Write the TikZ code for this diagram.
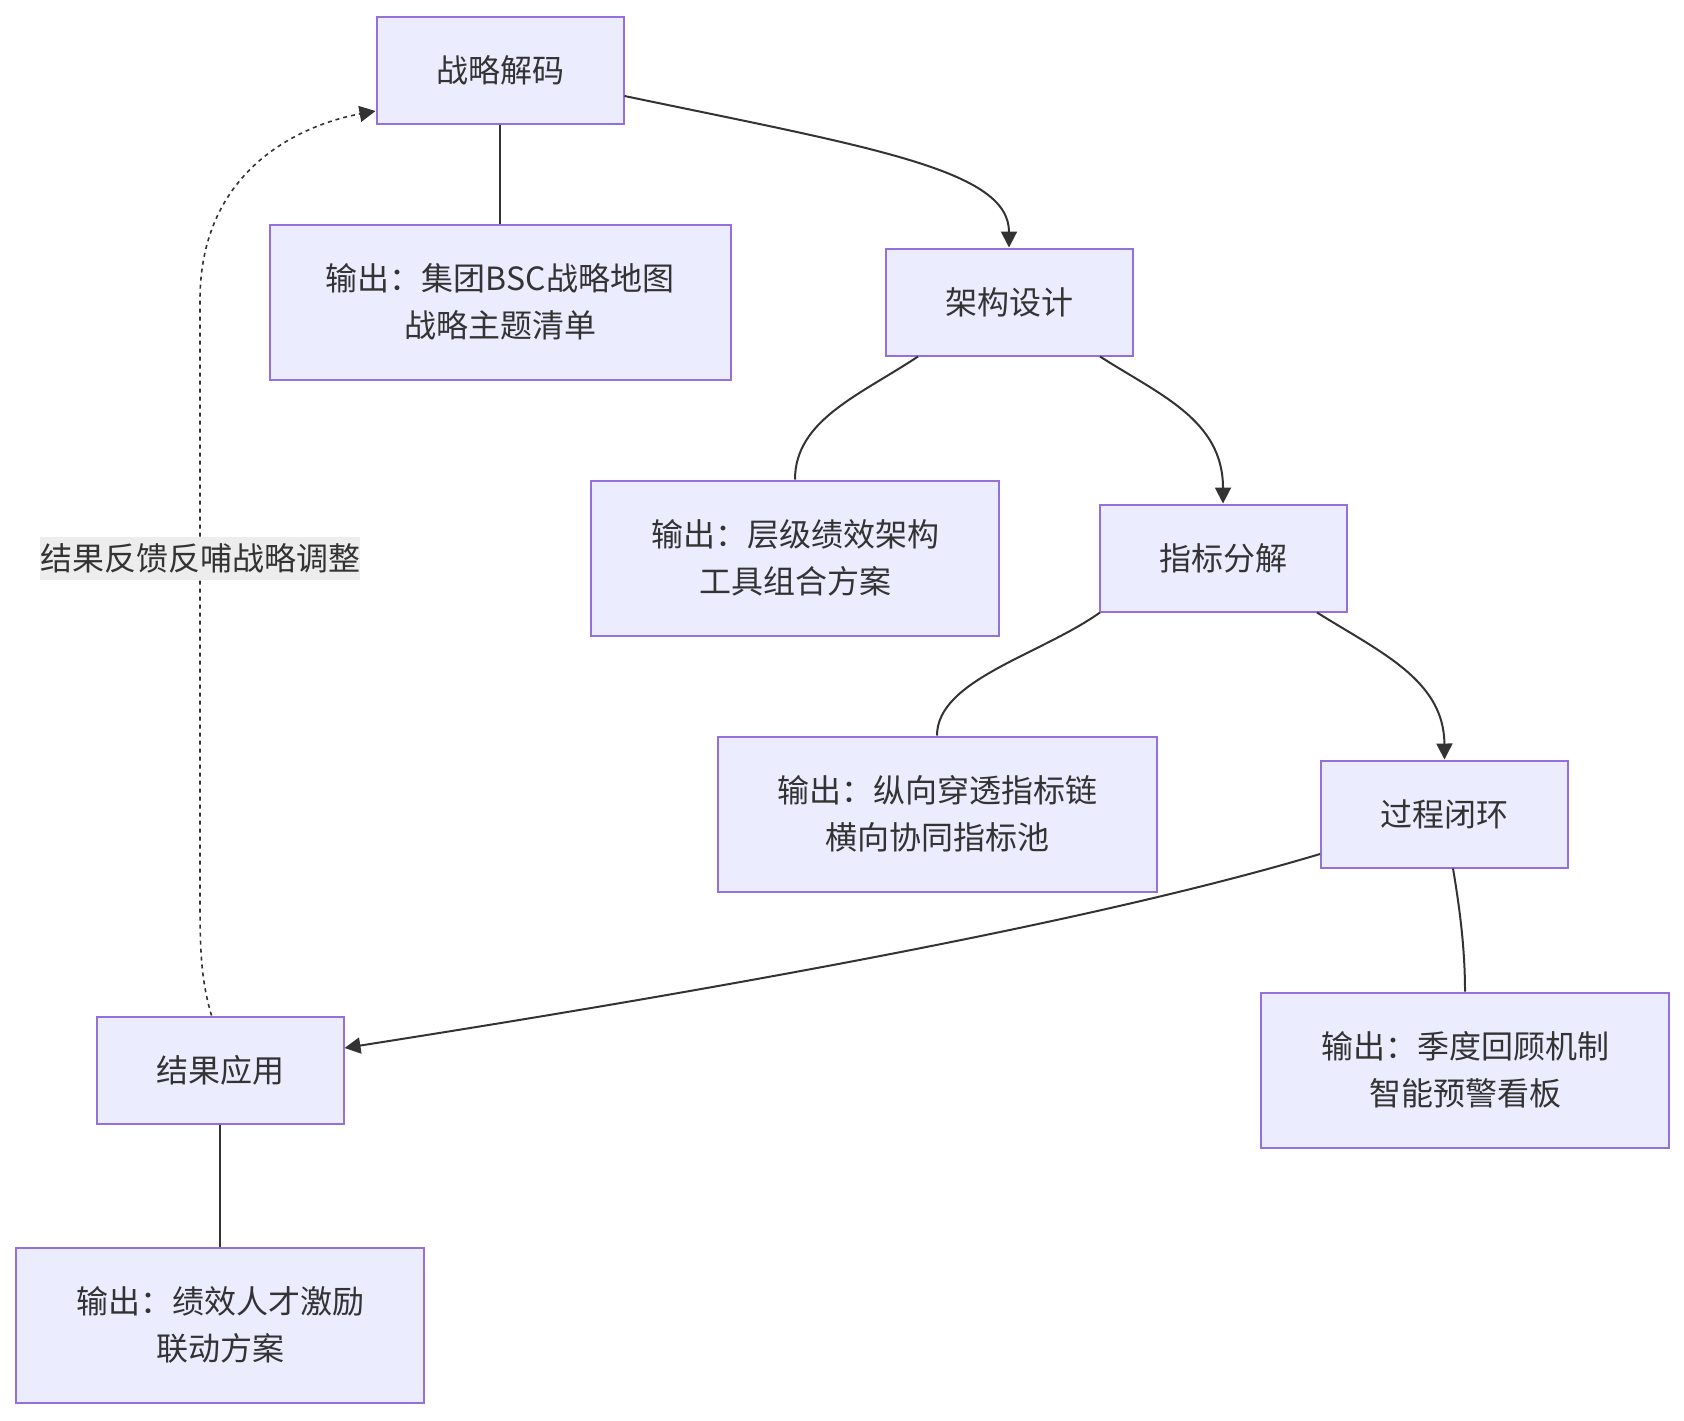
\documentclass[tikz,border=0pt]{standalone}
\usepackage{fontspec}
\setmainfont{Noto Sans CJK SC}
\usepackage{tikz}
\usetikzlibrary{arrows.meta}
\definecolor{lav}{HTML}{ECECFF}
\definecolor{purp}{HTML}{9370DB}
\definecolor{ink}{HTML}{333333}
\definecolor{lblbg}{HTML}{EDEDED}

\begin{document}
\begin{tikzpicture}[x=0.5pt,y=-0.5pt,>={Triangle[length=8pt,width=8pt]},
  font=\fontsize{16}{23.5}\selectfont,text=ink,
  box/.style={draw=purp,fill=lav,line width=1pt,minimum width=123.5pt,minimum height=53.5pt,align=center},
  outbox/.style={box,minimum width=204pt,minimum height=77.5pt},
  link/.style={draw=ink,line width=1pt}]
  \useasboundingbox (0,0) rectangle (1684,1420);
  \node[box] (decode) at (500,70) {战略解码};
  \node[outbox, minimum width=230.5pt] (out1) at (500,302) {输出：集团BSC战略地图\\战略主题清单};
  \node[box] (design) at (1009,302) {架构设计};
  \node[outbox] (out2) at (795,558) {输出：层级绩效架构\\工具组合方案};
  \node[box] (split) at (1223,558) {指标分解};
  \node[outbox, minimum width=219.5pt] (out3) at (937,814) {输出：纵向穿透指标链\\横向协同指标池};
  \node[box] (loop) at (1444.5,814) {过程闭环};
  \node[outbox] (out4) at (1465,1070) {输出：季度回顾机制\\智能预警看板};
  \node[box] (apply) at (220,1070) {结果应用};
  \node[outbox] (out5) at (220,1325) {输出：绩效人才激励\\联动方案};

  \draw[link,->] ([yshift=-13pt]decode.east) .. controls (874,148) and (1009,170) .. (design.north);
  \draw[link] (decode) -- (out1);
  \draw[link] ([xshift=-45.5pt]design.south) .. controls (860,395) and (795,420) .. (out2.north);
  \draw[link,->] ([xshift=45.5pt]design.south) .. controls (1160,395) and (1223,420) .. (split.north);
  \draw[link] ([xshift=-61.5pt]split.south) .. controls (1040,655) and (937,680) .. (out3.north);
  \draw[link,->] ([xshift=47pt]split.south) .. controls (1380,652) and (1444,680) .. (loop.north);
  \draw[link,->] ([yshift=-20pt]loop.west) .. controls (1070,929) and (650,1000) .. ([yshift=11pt]apply.east);
  \draw[link] ([xshift=4.25pt]loop.south) .. controls (1460,910) and (1465,950) .. (out4.north);
  \draw[link] (apply) -- (out5);
  % feedback loop
  \draw[link,->,line width=0.8pt,dash pattern=on 2pt off 2pt] ([xshift=-4.25pt]apply.north)
    .. controls (201,980) and (200,950) .. (200,900)
    -- node[pos=0.57,fill=lblbg,inner xsep=0pt,inner ysep=2pt,minimum height=21.5pt]{结果反馈反哺战略调整} (200,300)
    .. controls (200,170) and (300,125) .. ([yshift=-20.5pt]decode.west);
\end{tikzpicture}
\end{document}
